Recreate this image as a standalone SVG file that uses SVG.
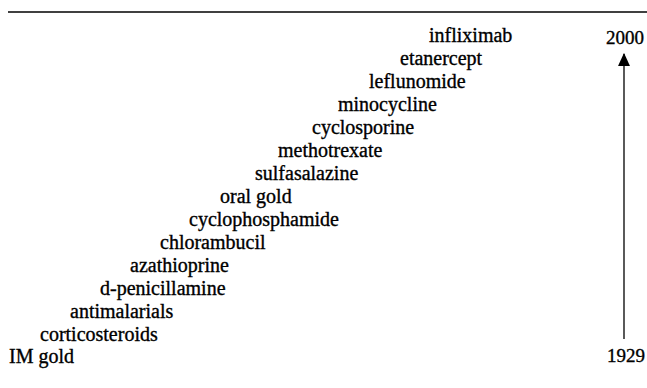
<svg xmlns="http://www.w3.org/2000/svg" width="647" height="388" viewBox="0 0 647 388">
<style>
text{font-family:"Liberation Serif","Times New Roman",serif;font-size:20px;fill:#000;stroke:#000;stroke-width:0.35}
.yr{text-anchor:middle;font-size:19px}
.ln{stroke:#000;stroke-width:1.3;fill:none}
</style>
<defs>
<marker id="ah" viewBox="0 0 12 12" refX="11" refY="6" markerWidth="13" markerHeight="13" markerUnits="userSpaceOnUse" orient="auto">
<path d="M0,0.5 L12,6 L0,11.5 Z" fill="#000"/>
</marker>
</defs>
<rect width="647" height="388" fill="#fff"/>
<line class="ln" x1="8" y1="12" x2="647" y2="12"/>
<g id="drugs">
<g id="n-infliximab"><text x="429" y="42">infliximab</text></g>
<g id="n-etanercept"><text x="400" y="65">etanercept</text></g>
<g id="n-leflunomide"><text x="369" y="88">leflunomide</text></g>
<g id="n-minocycline"><text x="338" y="111">minocycline</text></g>
<g id="n-cyclosporine"><text x="312" y="134">cyclosporine</text></g>
<g id="n-methotrexate"><text x="278" y="157">methotrexate</text></g>
<g id="n-sulfasalazine"><text x="255" y="180">sulfasalazine</text></g>
<g id="n-oralgold"><text x="220" y="203">oral gold</text></g>
<g id="n-cyclophosphamide"><text x="189" y="226">cyclophosphamide</text></g>
<g id="n-chlorambucil"><text x="160" y="249">chlorambucil</text></g>
<g id="n-azathioprine"><text x="130" y="272">azathioprine</text></g>
<g id="n-dpenicillamine"><text x="100" y="295">d-penicillamine</text></g>
<g id="n-antimalarials"><text x="70" y="318">antimalarials</text></g>
<g id="n-corticosteroids"><text x="40" y="341">corticosteroids</text></g>
<g id="n-imgold"><text x="9" y="363">IM gold</text></g>
</g>
<g id="n-2000"><text class="yr" x="625" y="44">2000</text></g>
<g id="n-1929"><text class="yr" x="626" y="362">1929</text></g>
<g id="connectors">
<line class="ln" x1="624" y1="339" x2="624" y2="54" marker-end="url(#ah)"/>
</g>
</svg>
